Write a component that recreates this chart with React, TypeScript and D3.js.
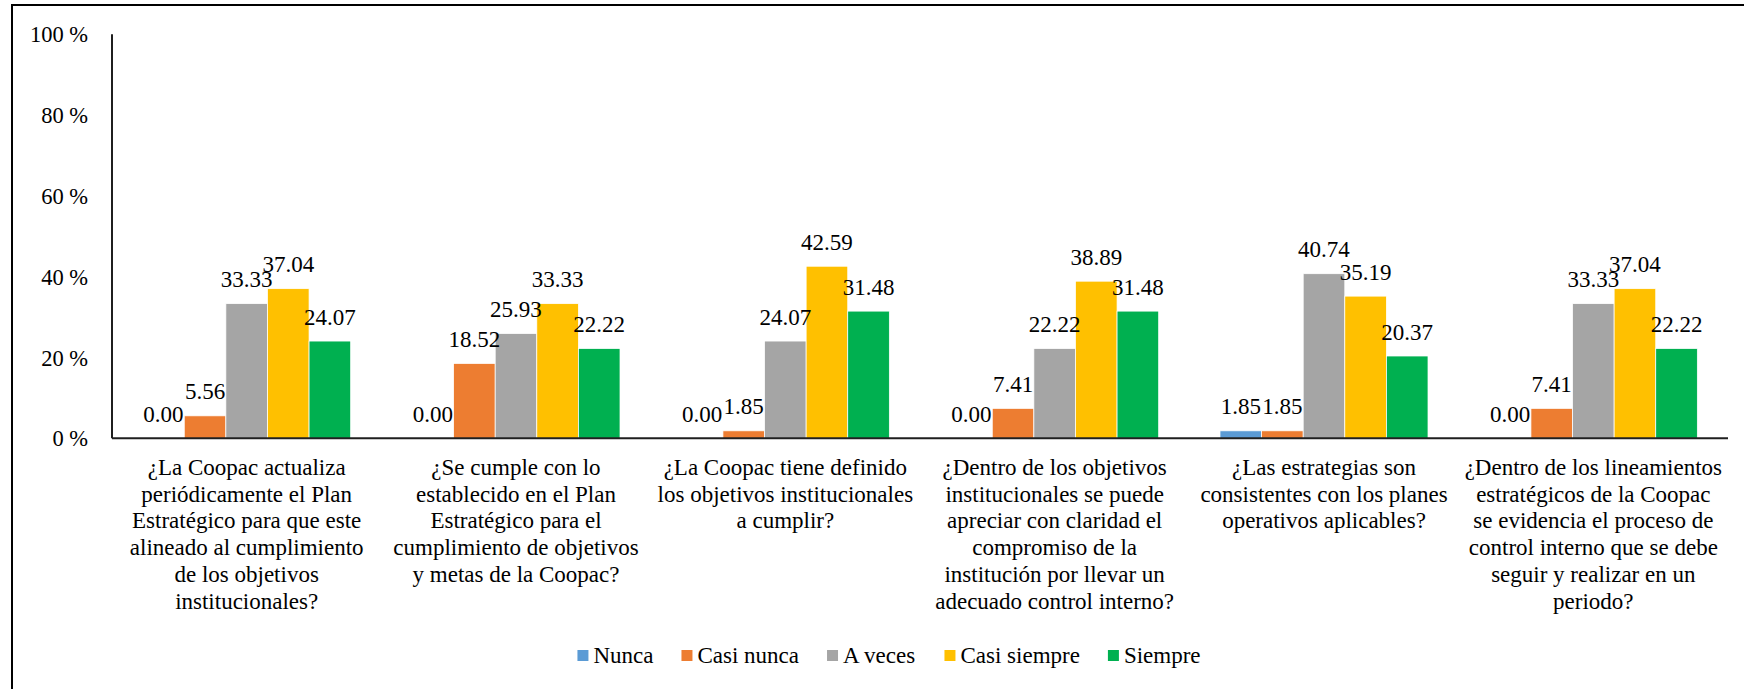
import React from "react";
import * as d3 from "d3";

const categoryLines: string[][] = [
  ["¿La Coopac actualiza", "periódicamente el Plan", "Estratégico para que este", "alineado al cumplimiento", "de los objetivos", "institucionales?"],
  ["¿Se cumple con lo", "establecido en el Plan", "Estratégico para el", "cumplimiento de objetivos", "y metas de la Coopac?"],
  ["¿La Coopac tiene definido", "los objetivos institucionales", "a cumplir?"],
  ["¿Dentro de los objetivos", "institucionales se puede", "apreciar con claridad el", "compromiso de la", "institución por llevar un", "adecuado control interno?"],
  ["¿Las estrategias son", "consistentes con los planes", "operativos aplicables?"],
  ["¿Dentro de los lineamientos", "estratégicos de la Coopac", "se evidencia el proceso de", "control interno que se debe", "seguir y realizar en un", "periodo?"],
];

const seriesNames = ["Nunca", "Casi nunca", "A veces", "Casi siempre", "Siempre"];
const seriesColors = ["#5B9BD5", "#ED7D31", "#A5A5A5", "#FFC000", "#00B050"];

const nunca = [0, 0, 0, 0, 1.85, 0];
const casiNunca = [5.56, 18.52, 1.85, 7.41, 1.85, 7.41];
const aVeces = [33.33, 25.93, 24.07, 22.22, 40.74, 33.33];
const casiSiempre = [37.04, 33.33, 42.59, 38.89, 35.19, 37.04];
const siempre = [24.07, 22.22, 31.48, 31.48, 20.37, 22.22];

const yTicks = [0, 20, 40, 60, 80, 100];
const yTickLabels = ["0 %", "20 %", "40 %", "60 %", "80 %", "100 %"];

const FONT = "Liberation Serif";
const FS = 23;

function measure(text: string, size: number): number {
  try {
    const c = document.createElement("canvas").getContext("2d");
    if (c) {
      c.font = `${size}px "Liberation Serif"`;
      return c.measureText(text).width;
    }
  } catch (e) {}
  return text.length * size * 0.45;
}

export default function App() {
  const W = 1744, H = 689;
  const left = 112, right = 1728, top = 34.3, bottom = 438.3;
  const series = [nunca, casiNunca, aVeces, casiSiempre, siempre];

  const idx = d3.range(categoryLines.length).map(String);
  const x0 = d3.scaleBand().domain(idx).range([left, right]).paddingInner(0).paddingOuter(0);
  const x1 = d3.scaleBand().domain(seriesNames).range([0, x0.bandwidth()]).paddingInner(0).paddingOuter(0.737);
  const y = d3.scaleLinear().domain([0, 100]).range([bottom, top]);

  // legend layout
  const gap = 28;
  const itemW = seriesNames.map((n) => 16 + measure(n, FS));
  const total = d3.sum(itemW) + gap * (seriesNames.length - 1);
  const legendX: number[] = [];
  let acc = 889 - total / 2;
  itemW.forEach((w) => {
    legendX.push(acc);
    acc += w + gap;
  });

  return (
    <svg width={W} height={H} fontFamily={FONT} style={{ position: "absolute", left: 0, top: 0, display: "block" }}>
      <rect width={W} height={H} fill="#fff" />
      <path d={`M12,${H + 5} V5 H${W + 5}`} fill="none" stroke="#000" strokeWidth={2} />

      {yTicks.map((t, i) => (
        <text key={t} x={88} y={y(t) + 8} textAnchor="end" fontFamily={FONT} fontSize={22.5} fill="#000">
          {yTickLabels[i]}
        </text>
      ))}

      {idx.map((ci) => (
        <g key={ci} transform={`translate(${x0(ci)},0)`}>
          {seriesNames.map((s, si) => {
            const v = series[si][+ci];
            return (
              <rect key={s} x={x1(s)} y={y(v)} width={x1.bandwidth()} height={bottom - y(v)}
                fill={seriesColors[si]} stroke="#fff" strokeWidth={0.75} />
            );
          })}
          {seriesNames.map((s, si) => {
            const v = series[si][+ci];
            return (
              <text key={s} x={x1(s)! + x1.bandwidth() / 2} y={y(v) - 16.5} textAnchor="middle"
                fontFamily={FONT} fontSize={FS} fill="#000">
                {v.toFixed(2)}
              </text>
            );
          })}
        </g>
      ))}

      <line x1={left} x2={left} y1={top} y2={bottom} stroke="#1f1f1f" strokeWidth={2} />
      <line x1={left} x2={right} y1={bottom} y2={bottom} stroke="#1f1f1f" strokeWidth={2} />

      {idx.map((ci) => {
        const cx = x0(ci)! + x0.bandwidth() / 2;
        return (
          <text key={ci} textAnchor="middle" fontFamily={FONT} fontSize={FS} fill="#000">
            {categoryLines[+ci].map((line, li) => (
              <tspan key={li} x={cx} y={475 + li * 26.7}>{line}</tspan>
            ))}
          </text>
        );
      })}

      {seriesNames.map((n, i) => (
        <g key={n} transform={`translate(${legendX[i]},0)`}>
          <rect x={0} y={650} width={11} height={11} fill={seriesColors[i]} />
          <text x={16} y={663.3} fontFamily={FONT} fontSize={FS} fill="#000">{n}</text>
        </g>
      ))}
    </svg>
  );
}
